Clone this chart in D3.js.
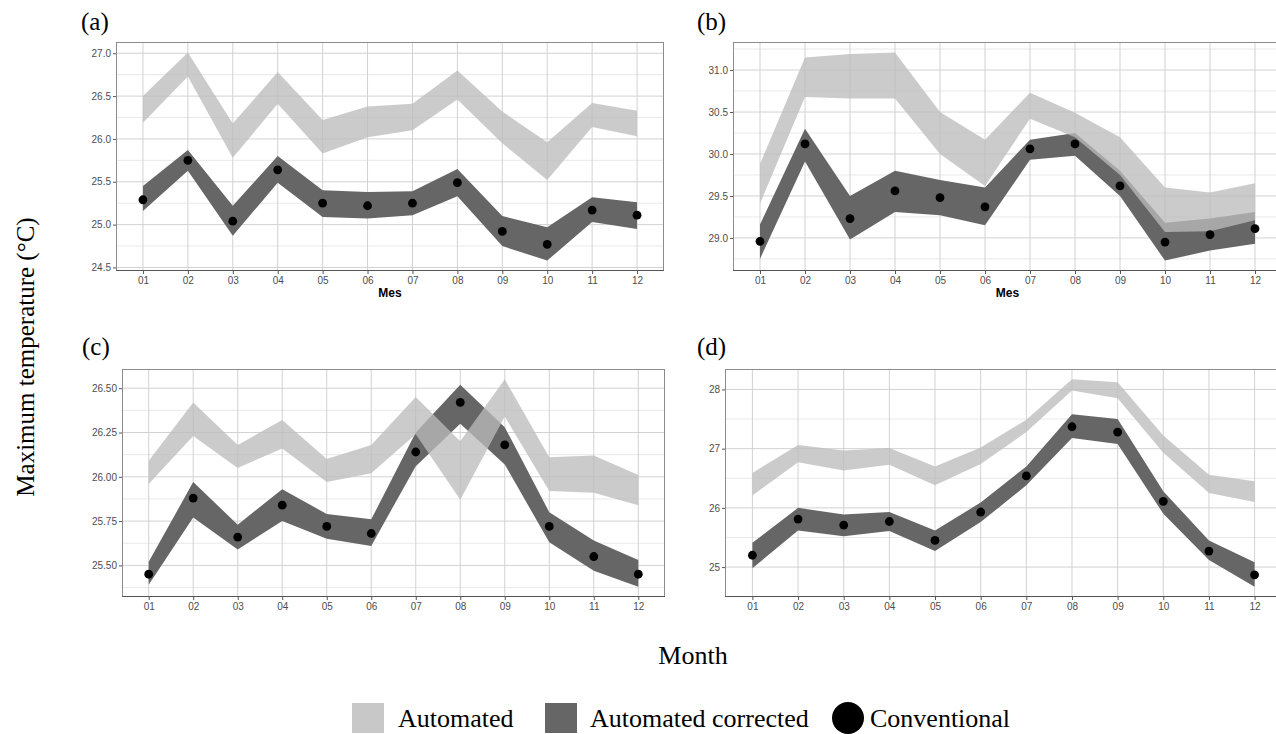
<!DOCTYPE html>
<html>
<head>
<meta charset="utf-8">
<script src="https://cdn.jsdelivr.net/npm/d3@7"></script>
<style>
  html, body { margin: 0; padding: 0; background: #fff; }
  svg { display: block; }
</style>
</head>
<body>
<svg id="chart" width="1276" height="734"></svg>
<script>
// ---------------- DATA ----------------
const months = ["01","02","03","04","05","06","07","08","09","10","11","12"];

// Panel (a)
const aAutoHigh = [26.50,27.01,26.18,26.78,26.22,26.38,26.41,26.80,26.32,25.96,26.42,26.33];
const aAutoLow  = [26.19,26.73,25.78,26.41,25.83,26.02,26.10,26.46,25.95,25.52,26.14,26.03];
const aCorrHigh = [25.45,25.87,25.22,25.80,25.40,25.38,25.39,25.65,25.10,24.97,25.32,25.26];
const aCorrLow  = [25.16,25.63,24.87,25.49,25.09,25.07,25.11,25.33,24.75,24.58,25.03,24.95];
const aConv     = [25.29,25.75,25.04,25.64,25.25,25.22,25.25,25.49,24.92,24.77,25.17,25.11];
const aTicks    = [24.5,25.0,25.5,26.0,26.5,27.0];

// Panel (b)
const bAutoHigh = [29.88,31.15,31.19,31.21,30.50,30.17,30.73,30.49,30.20,29.60,29.54,29.65];
const bAutoLow  = [29.41,30.68,30.66,30.66,30.00,29.62,30.42,30.20,29.75,29.07,29.08,29.21];
const bCorrHigh = [29.16,30.30,29.50,29.80,29.69,29.60,30.17,30.25,29.80,29.18,29.23,29.31];
const bCorrLow  = [28.75,29.91,28.98,29.31,29.27,29.15,29.93,29.98,29.50,28.73,28.85,28.93];
const bConv     = [28.96,30.12,29.23,29.56,29.48,29.37,30.06,30.12,29.62,28.95,29.04,29.11];
const bTicks    = [29.0,29.5,30.0,30.5,31.0];

// Panel (c)
const cAutoHigh = [26.09,26.42,26.18,26.32,26.10,26.18,26.45,26.20,26.55,26.11,26.12,26.01];
const cAutoLow  = [25.96,26.23,26.05,26.16,25.97,26.02,26.24,25.87,26.34,25.92,25.91,25.84];
const cCorrHigh = [25.52,25.97,25.73,25.93,25.79,25.76,26.25,26.52,26.28,25.80,25.64,25.53];
const cCorrLow  = [25.39,25.77,25.59,25.75,25.65,25.61,26.06,26.30,26.07,25.63,25.47,25.38];
const cConv     = [25.45,25.88,25.66,25.84,25.72,25.68,26.14,26.42,26.18,25.72,25.55,25.45];
const cTicks    = [25.50,25.75,26.00,26.25,26.50];

// Panel (d)
const dAutoHigh = [26.59,27.06,26.97,27.01,26.70,27.02,27.49,28.17,28.12,27.22,26.56,26.45];
const dAutoLow  = [26.21,26.77,26.63,26.73,26.38,26.74,27.28,27.98,27.85,26.93,26.25,26.10];
const dCorrHigh = [25.41,26.00,25.89,25.93,25.62,26.09,26.70,27.58,27.50,26.28,25.45,25.08];
const dCorrLow  = [24.98,25.62,25.52,25.61,25.27,25.76,26.38,27.18,27.08,25.90,25.12,24.67];
const dConv     = [25.20,25.81,25.71,25.77,25.45,25.93,26.54,27.37,27.28,26.11,25.27,24.87];
const dTicks    = [25,26,27,28];

const legendLabels = ["Automated","Automated corrected","Conventional"];
const axisTitleX = "Month";
const axisTitleY = "Maximum temperature (°C)";
const panelAxisName = "Mes";

// ---------------- STYLE ----------------
const LIGHT = "#bbbbbb", LIGHT_OP = 0.77;
const DARK = "#666666";
const MAJOR = "#d2d2d2", MINOR = "#e9e9e9";
const SERIF = "'Liberation Serif','Times New Roman',Times,serif";
const SANS = "'Liberation Sans',Arial,Helvetica,sans-serif";

const svg = d3.select("#chart");

function drawPanel(cfg) {
  const g = svg.append("g");
  const x = d3.scalePoint().domain(months).range([cfg.left, cfg.right]).padding(0.6);
  const all = cfg.autoLow.concat(cfg.autoHigh, cfg.corrLow, cfg.corrHigh, cfg.conv);
  const [mn, mx] = d3.extent(all);
  const pad = (mx - mn) * 0.05;
  const y = d3.scaleLinear().domain([mn - pad, mx + pad]).range([cfg.bottom, cfg.top]);

  // clip
  const clipId = "clip" + cfg.label.replace(/[()]/g, "");
  svg.append("clipPath").attr("id", clipId).append("rect")
    .attr("x", cfg.left).attr("y", cfg.top)
    .attr("width", cfg.right - cfg.left).attr("height", cfg.bottom - cfg.top);

  // minor grid
  const step = cfg.ticks[1] - cfg.ticks[0];
  const minor = [];
  for (let i = -1; i < cfg.ticks.length; i++) {
    const v = cfg.ticks[0] + (i + 0.5) * step;
    if (v > y.domain()[0] && v < y.domain()[1]) minor.push(v);
  }
  g.append("g").selectAll("line").data(minor).join("line")
    .attr("x1", cfg.left).attr("x2", cfg.right)
    .attr("y1", d => y(d)).attr("y2", d => y(d))
    .attr("stroke", MINOR).attr("stroke-width", 1);
  // major grid
  g.append("g").selectAll("line").data(cfg.ticks).join("line")
    .attr("x1", cfg.left).attr("x2", cfg.right)
    .attr("y1", d => y(d)).attr("y2", d => y(d))
    .attr("stroke", MAJOR).attr("stroke-width", 1);
  g.append("g").selectAll("line").data(months).join("line")
    .attr("x1", d => x(d)).attr("x2", d => x(d))
    .attr("y1", cfg.top).attr("y2", cfg.bottom)
    .attr("stroke", MAJOR).attr("stroke-width", 1);

  const data = months.map((m, i) => ({
    m, aL: cfg.autoLow[i], aH: cfg.autoHigh[i], cL: cfg.corrLow[i], cH: cfg.corrHigh[i], v: cfg.conv[i]
  }));

  const marks = g.append("g").attr("clip-path", `url(#${clipId})`);
  marks.append("path").datum(data)
    .attr("d", d3.area().x(d => x(d.m)).y0(d => y(d.cL)).y1(d => y(d.cH)))
    .attr("fill", DARK);
  marks.append("path").datum(data)
    .attr("d", d3.area().x(d => x(d.m)).y0(d => y(d.aL)).y1(d => y(d.aH)))
    .attr("fill", LIGHT).attr("fill-opacity", LIGHT_OP);
  marks.append("g").selectAll("circle").data(data).join("circle")
    .attr("cx", d => x(d.m)).attr("cy", d => y(d.v)).attr("r", 4.4)
    .attr("fill", "#000");

  // border
  g.append("rect").attr("x", cfg.left + 0.5).attr("y", cfg.top + 0.5)
    .attr("width", cfg.right - cfg.left - 1).attr("height", cfg.bottom - cfg.top - 1)
    .attr("fill", "none").attr("stroke", "#8c8c8c").attr("stroke-width", 1);
  g.append("line").attr("x1", cfg.left).attr("x2", cfg.right)
    .attr("y1", cfg.bottom - 0.5).attr("y2", cfg.bottom - 0.5)
    .attr("stroke", "#555").attr("stroke-width", 1);

  // axes
  const ya = g.append("g").attr("transform", `translate(${cfg.left},0)`)
    .call(d3.axisLeft(y).tickValues(cfg.ticks).tickFormat(d3.format(cfg.fmt)).tickSize(3).tickPadding(2));
  const xa = g.append("g").attr("transform", `translate(0,${cfg.bottom})`)
    .call(d3.axisBottom(x).tickSize(3).tickPadding(3));
  [ya, xa].forEach(a => {
    a.select(".domain").remove();
    a.selectAll(".tick line").attr("stroke", "#555");
    a.selectAll(".tick text").attr("fill", "#4d4d4d")
      .style("font-family", SANS).style("font-size", "10px");
  });

  if (cfg.showMes) {
    g.append("text").attr("x", (cfg.left + cfg.right) / 2).attr("y", cfg.bottom + 26)
      .attr("text-anchor", "middle").style("font-family", SANS)
      .style("font-size", "12px").style("font-weight", "bold").text(panelAxisName);
  }

  svg.append("text").attr("x", cfg.labelX).attr("y", cfg.labelY)
    .style("font-family", SERIF).style("font-size", "25px").text(cfg.label);
}

// Right edge of right-hand panels extends beyond the image (cropped in the original)
drawPanel({ left: 116, right: 664, top: 42, bottom: 271, autoLow: aAutoLow, autoHigh: aAutoHigh,
  corrLow: aCorrLow, corrHigh: aCorrHigh, conv: aConv, ticks: aTicks, fmt: ".1f",
  label: "(a)", labelX: 81, labelY: 30, showMes: true });
drawPanel({ left: 733, right: 1282, top: 42, bottom: 271, autoLow: bAutoLow, autoHigh: bAutoHigh,
  corrLow: bCorrLow, corrHigh: bCorrHigh, conv: bConv, ticks: bTicks, fmt: ".1f",
  label: "(b)", labelX: 697, labelY: 30, showMes: true });
drawPanel({ left: 122, right: 665, top: 369, bottom: 597, autoLow: cAutoLow, autoHigh: cAutoHigh,
  corrLow: cCorrLow, corrHigh: cCorrHigh, conv: cConv, ticks: cTicks, fmt: ".2f",
  label: "(c)", labelX: 82, labelY: 355, showMes: false });
drawPanel({ left: 725, right: 1282, top: 369, bottom: 597, autoLow: dAutoLow, autoHigh: dAutoHigh,
  corrLow: dCorrLow, corrHigh: dCorrHigh, conv: dConv, ticks: dTicks, fmt: "d",
  label: "(d)", labelX: 697, labelY: 355, showMes: false });

// Axis titles
svg.append("text").attr("transform", "translate(25,357) rotate(-90)")
  .attr("text-anchor", "middle").attr("dominant-baseline", "central")
  .style("font-family", SERIF).style("font-size", "25px").text(axisTitleY);
svg.append("text").attr("x", 693).attr("y", 664).attr("text-anchor", "middle")
  .style("font-family", SERIF).style("font-size", "26px").text(axisTitleX);

// Legend
const lg = svg.append("g");
lg.append("rect").attr("x", 352).attr("y", 703).attr("width", 32).attr("height", 30).attr("fill", "#c8c8c8");
lg.append("text").attr("x", 398).attr("y", 727).style("font-family", SERIF).style("font-size", "26px").text(legendLabels[0]);
lg.append("rect").attr("x", 545).attr("y", 703).attr("width", 32).attr("height", 30).attr("fill", DARK);
lg.append("text").attr("x", 590).attr("y", 727).style("font-family", SERIF).style("font-size", "26px").text(legendLabels[1]);
lg.append("circle").attr("cx", 848).attr("cy", 718).attr("r", 16).attr("fill", "#000");
lg.append("text").attr("x", 870).attr("y", 727).style("font-family", SERIF).style("font-size", "26px").text(legendLabels[2]);
</script>
</body>
</html>
